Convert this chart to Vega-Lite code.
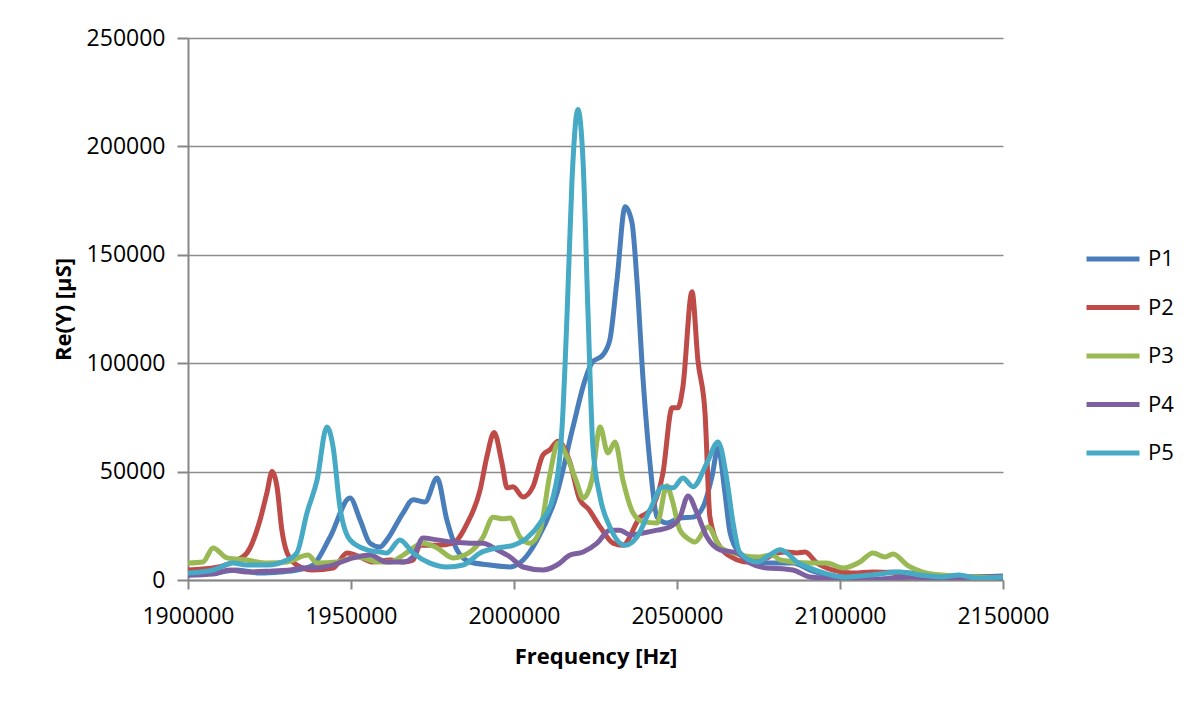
{
  "$schema": "https://vega.github.io/schema/vega-lite/v6.json",
  "width": 815,
  "height": 542,
  "autosize": {"type": "none"},
  "padding": {"left": 188, "top": 38, "right": 191, "bottom": 122},
  "background": "#ffffff",
  "config": {
    "view": {"stroke": null},
    "font": "Open Sans",
    "axis": {
      "labelFont": "Open Sans",
      "labelFontSize": 23,
      "labelColor": "#000000",
      "titleFont": "Open Sans",
      "titleFontSize": 22,
      "titleFontWeight": "bold",
      "titleColor": "#000000",
      "domainColor": "#878787",
      "domainWidth": 2,
      "tickColor": "#878787",
      "tickWidth": 2,
      "gridColor": "#8c8c8c",
      "gridWidth": 1.5,
      "labelFlush": false,
      "labelOverlap": false
    },
    "legend": {
      "labelFont": "Open Sans",
      "labelFontSize": 22,
      "labelColor": "#000000"
    }
  },
  "data": {
    "values": [
      {"s": "P1", "f": 1900000, "v": 2300},
      {"s": "P1", "f": 1907700, "v": 3200},
      {"s": "P1", "f": 1915000, "v": 4600},
      {"s": "P1", "f": 1922100, "v": 3200},
      {"s": "P1", "f": 1928200, "v": 3700},
      {"s": "P1", "f": 1933400, "v": 4600},
      {"s": "P1", "f": 1938300, "v": 6900},
      {"s": "P1", "f": 1943600, "v": 19800},
      {"s": "P1", "f": 1949700, "v": 37800},
      {"s": "P1", "f": 1952800, "v": 27700},
      {"s": "P1", "f": 1955800, "v": 17000},
      {"s": "P1", "f": 1958900, "v": 15200},
      {"s": "P1", "f": 1961000, "v": 18500},
      {"s": "P1", "f": 1966000, "v": 31000},
      {"s": "P1", "f": 1969000, "v": 37000},
      {"s": "P1", "f": 1972700, "v": 36000},
      {"s": "P1", "f": 1976400, "v": 47000},
      {"s": "P1", "f": 1979400, "v": 27700},
      {"s": "P1", "f": 1982500, "v": 13900},
      {"s": "P1", "f": 1986500, "v": 8300},
      {"s": "P1", "f": 1992600, "v": 6900},
      {"s": "P1", "f": 1998800, "v": 6000},
      {"s": "P1", "f": 2002800, "v": 9200},
      {"s": "P1", "f": 2007100, "v": 18500},
      {"s": "P1", "f": 2013200, "v": 40000},
      {"s": "P1", "f": 2018100, "v": 70600},
      {"s": "P1", "f": 2021800, "v": 92300},
      {"s": "P1", "f": 2023900, "v": 100200},
      {"s": "P1", "f": 2027300, "v": 103900},
      {"s": "P1", "f": 2029400, "v": 110800},
      {"s": "P1", "f": 2031600, "v": 138500},
      {"s": "P1", "f": 2034100, "v": 172200},
      {"s": "P1", "f": 2036200, "v": 164800},
      {"s": "P1", "f": 2037700, "v": 138500},
      {"s": "P1", "f": 2039600, "v": 92300},
      {"s": "P1", "f": 2041700, "v": 54000},
      {"s": "P1", "f": 2043900, "v": 29000},
      {"s": "P1", "f": 2046900, "v": 26300},
      {"s": "P1", "f": 2050900, "v": 28600},
      {"s": "P1", "f": 2054900, "v": 29000},
      {"s": "P1", "f": 2058000, "v": 33700},
      {"s": "P1", "f": 2060700, "v": 47500},
      {"s": "P1", "f": 2062600, "v": 61000},
      {"s": "P1", "f": 2064700, "v": 40200},
      {"s": "P1", "f": 2066300, "v": 21700},
      {"s": "P1", "f": 2069300, "v": 12500},
      {"s": "P1", "f": 2074500, "v": 8300},
      {"s": "P1", "f": 2079400, "v": 7800},
      {"s": "P1", "f": 2085600, "v": 7800},
      {"s": "P1", "f": 2090800, "v": 4600},
      {"s": "P1", "f": 2100900, "v": 1400},
      {"s": "P1", "f": 2116300, "v": 3700},
      {"s": "P1", "f": 2136500, "v": 1400},
      {"s": "P1", "f": 2150000, "v": 1800},

      {"s": "P2", "f": 1900000, "v": 4600},
      {"s": "P2", "f": 1907700, "v": 5500},
      {"s": "P2", "f": 1913800, "v": 8300},
      {"s": "P2", "f": 1918100, "v": 12500},
      {"s": "P2", "f": 1922100, "v": 27700},
      {"s": "P2", "f": 1924200, "v": 40200},
      {"s": "P2", "f": 1925800, "v": 50000},
      {"s": "P2", "f": 1927300, "v": 43000},
      {"s": "P2", "f": 1928800, "v": 23000},
      {"s": "P2", "f": 1930400, "v": 12500},
      {"s": "P2", "f": 1933400, "v": 6900},
      {"s": "P2", "f": 1938300, "v": 4600},
      {"s": "P2", "f": 1944500, "v": 5500},
      {"s": "P2", "f": 1948800, "v": 12500},
      {"s": "P2", "f": 1952800, "v": 10600},
      {"s": "P2", "f": 1956700, "v": 8300},
      {"s": "P2", "f": 1962000, "v": 9200},
      {"s": "P2", "f": 1966000, "v": 8300},
      {"s": "P2", "f": 1969000, "v": 9200},
      {"s": "P2", "f": 1971200, "v": 16000},
      {"s": "P2", "f": 1976400, "v": 16000},
      {"s": "P2", "f": 1981300, "v": 17000},
      {"s": "P2", "f": 1985600, "v": 26000},
      {"s": "P2", "f": 1989600, "v": 41500},
      {"s": "P2", "f": 1991700, "v": 57000},
      {"s": "P2", "f": 1993900, "v": 68000},
      {"s": "P2", "f": 1996300, "v": 54000},
      {"s": "P2", "f": 1997900, "v": 42500},
      {"s": "P2", "f": 1999700, "v": 43000},
      {"s": "P2", "f": 2002800, "v": 38300},
      {"s": "P2", "f": 2005800, "v": 43000},
      {"s": "P2", "f": 2008900, "v": 57700},
      {"s": "P2", "f": 2011000, "v": 60000},
      {"s": "P2", "f": 2013500, "v": 64000},
      {"s": "P2", "f": 2017200, "v": 54000},
      {"s": "P2", "f": 2020200, "v": 37000},
      {"s": "P2", "f": 2022700, "v": 33000},
      {"s": "P2", "f": 2026400, "v": 24500},
      {"s": "P2", "f": 2030400, "v": 17000},
      {"s": "P2", "f": 2033400, "v": 16000},
      {"s": "P2", "f": 2038700, "v": 29000},
      {"s": "P2", "f": 2041700, "v": 32000},
      {"s": "P2", "f": 2045700, "v": 49400},
      {"s": "P2", "f": 2048500, "v": 79400},
      {"s": "P2", "f": 2050300, "v": 79400},
      {"s": "P2", "f": 2051800, "v": 89000},
      {"s": "P2", "f": 2054600, "v": 133000},
      {"s": "P2", "f": 2056400, "v": 101600},
      {"s": "P2", "f": 2058600, "v": 77000},
      {"s": "P2", "f": 2060100, "v": 29000},
      {"s": "P2", "f": 2063200, "v": 15200},
      {"s": "P2", "f": 2067200, "v": 10200},
      {"s": "P2", "f": 2071500, "v": 8300},
      {"s": "P2", "f": 2077600, "v": 10200},
      {"s": "P2", "f": 2080700, "v": 12500},
      {"s": "P2", "f": 2083700, "v": 12900},
      {"s": "P2", "f": 2086800, "v": 12500},
      {"s": "P2", "f": 2089300, "v": 12900},
      {"s": "P2", "f": 2092900, "v": 7800},
      {"s": "P2", "f": 2097900, "v": 4600},
      {"s": "P2", "f": 2104000, "v": 3200},
      {"s": "P2", "f": 2110100, "v": 3700},
      {"s": "P2", "f": 2116300, "v": 3200},
      {"s": "P2", "f": 2119300, "v": 1400},
      {"s": "P2", "f": 2126700, "v": 1400},
      {"s": "P2", "f": 2136500, "v": 1400},
      {"s": "P2", "f": 2150000, "v": 1400},

      {"s": "P3", "f": 1900000, "v": 7800},
      {"s": "P3", "f": 1904600, "v": 8300},
      {"s": "P3", "f": 1907700, "v": 14800},
      {"s": "P3", "f": 1912000, "v": 10200},
      {"s": "P3", "f": 1918100, "v": 9200},
      {"s": "P3", "f": 1924200, "v": 7800},
      {"s": "P3", "f": 1930400, "v": 8300},
      {"s": "P3", "f": 1936800, "v": 11500},
      {"s": "P3", "f": 1939600, "v": 7800},
      {"s": "P3", "f": 1945700, "v": 8300},
      {"s": "P3", "f": 1951800, "v": 10600},
      {"s": "P3", "f": 1958900, "v": 8300},
      {"s": "P3", "f": 1962000, "v": 8300},
      {"s": "P3", "f": 1966000, "v": 11500},
      {"s": "P3", "f": 1972100, "v": 17000},
      {"s": "P3", "f": 1976400, "v": 14800},
      {"s": "P3", "f": 1981300, "v": 10200},
      {"s": "P3", "f": 1986500, "v": 12900},
      {"s": "P3", "f": 1990500, "v": 19800},
      {"s": "P3", "f": 1993600, "v": 29000},
      {"s": "P3", "f": 1996600, "v": 28200},
      {"s": "P3", "f": 1998800, "v": 28600},
      {"s": "P3", "f": 2001800, "v": 19800},
      {"s": "P3", "f": 2004900, "v": 17000},
      {"s": "P3", "f": 2008000, "v": 23000},
      {"s": "P3", "f": 2011000, "v": 48500},
      {"s": "P3", "f": 2013500, "v": 63200},
      {"s": "P3", "f": 2016300, "v": 56800},
      {"s": "P3", "f": 2019300, "v": 44800},
      {"s": "P3", "f": 2021200, "v": 37800},
      {"s": "P3", "f": 2023900, "v": 46200},
      {"s": "P3", "f": 2026400, "v": 70600},
      {"s": "P3", "f": 2028800, "v": 58600},
      {"s": "P3", "f": 2031000, "v": 63700},
      {"s": "P3", "f": 2033400, "v": 46200},
      {"s": "P3", "f": 2036500, "v": 31000},
      {"s": "P3", "f": 2039600, "v": 26800},
      {"s": "P3", "f": 2043900, "v": 26300},
      {"s": "P3", "f": 2046900, "v": 43500},
      {"s": "P3", "f": 2048500, "v": 37000},
      {"s": "P3", "f": 2050900, "v": 23000},
      {"s": "P3", "f": 2054000, "v": 18500},
      {"s": "P3", "f": 2055500, "v": 17500},
      {"s": "P3", "f": 2059500, "v": 24500},
      {"s": "P3", "f": 2063200, "v": 15200},
      {"s": "P3", "f": 2067200, "v": 12500},
      {"s": "P3", "f": 2074500, "v": 10600},
      {"s": "P3", "f": 2079400, "v": 11500},
      {"s": "P3", "f": 2081600, "v": 9200},
      {"s": "P3", "f": 2090800, "v": 7800},
      {"s": "P3", "f": 2096000, "v": 7800},
      {"s": "P3", "f": 2100900, "v": 5500},
      {"s": "P3", "f": 2106100, "v": 8300},
      {"s": "P3", "f": 2110100, "v": 12500},
      {"s": "P3", "f": 2113800, "v": 10600},
      {"s": "P3", "f": 2116300, "v": 12000},
      {"s": "P3", "f": 2120600, "v": 6900},
      {"s": "P3", "f": 2126700, "v": 3200},
      {"s": "P3", "f": 2131300, "v": 2300},
      {"s": "P3", "f": 2136500, "v": 1800},
      {"s": "P3", "f": 2150000, "v": 900},

      {"s": "P4", "f": 1900000, "v": 2300},
      {"s": "P4", "f": 1907700, "v": 2800},
      {"s": "P4", "f": 1912900, "v": 4600},
      {"s": "P4", "f": 1918100, "v": 3700},
      {"s": "P4", "f": 1926100, "v": 4200},
      {"s": "P4", "f": 1931300, "v": 4600},
      {"s": "P4", "f": 1934400, "v": 5500},
      {"s": "P4", "f": 1938300, "v": 5500},
      {"s": "P4", "f": 1943600, "v": 6500},
      {"s": "P4", "f": 1950600, "v": 10200},
      {"s": "P4", "f": 1955800, "v": 11500},
      {"s": "P4", "f": 1961000, "v": 8300},
      {"s": "P4", "f": 1966000, "v": 8300},
      {"s": "P4", "f": 1969000, "v": 10600},
      {"s": "P4", "f": 1972100, "v": 19400},
      {"s": "P4", "f": 1976400, "v": 18500},
      {"s": "P4", "f": 1981300, "v": 17500},
      {"s": "P4", "f": 1986500, "v": 17000},
      {"s": "P4", "f": 1990500, "v": 17000},
      {"s": "P4", "f": 1994800, "v": 13900},
      {"s": "P4", "f": 1998800, "v": 10600},
      {"s": "P4", "f": 2002800, "v": 6000},
      {"s": "P4", "f": 2008900, "v": 4600},
      {"s": "P4", "f": 2013200, "v": 6900},
      {"s": "P4", "f": 2017200, "v": 11500},
      {"s": "P4", "f": 2021200, "v": 12900},
      {"s": "P4", "f": 2025500, "v": 17000},
      {"s": "P4", "f": 2029400, "v": 23000},
      {"s": "P4", "f": 2032500, "v": 23000},
      {"s": "P4", "f": 2035600, "v": 20800},
      {"s": "P4", "f": 2039600, "v": 21700},
      {"s": "P4", "f": 2043900, "v": 23000},
      {"s": "P4", "f": 2047900, "v": 24500},
      {"s": "P4", "f": 2050900, "v": 29000},
      {"s": "P4", "f": 2053400, "v": 38800},
      {"s": "P4", "f": 2056100, "v": 31000},
      {"s": "P4", "f": 2059200, "v": 19800},
      {"s": "P4", "f": 2063200, "v": 13900},
      {"s": "P4", "f": 2068400, "v": 12500},
      {"s": "P4", "f": 2072400, "v": 7800},
      {"s": "P4", "f": 2077600, "v": 5500},
      {"s": "P4", "f": 2083700, "v": 5000},
      {"s": "P4", "f": 2085600, "v": 4600},
      {"s": "P4", "f": 2090800, "v": 1400},
      {"s": "P4", "f": 2100900, "v": 500},
      {"s": "P4", "f": 2111400, "v": 500},
      {"s": "P4", "f": 2121500, "v": 1400},
      {"s": "P4", "f": 2131300, "v": 500},
      {"s": "P4", "f": 2150000, "v": 900},

      {"s": "P5", "f": 1900000, "v": 3200},
      {"s": "P5", "f": 1907700, "v": 4600},
      {"s": "P5", "f": 1913800, "v": 7800},
      {"s": "P5", "f": 1918100, "v": 6900},
      {"s": "P5", "f": 1924200, "v": 6900},
      {"s": "P5", "f": 1930400, "v": 9200},
      {"s": "P5", "f": 1933400, "v": 12500},
      {"s": "P5", "f": 1936500, "v": 31000},
      {"s": "P5", "f": 1939600, "v": 46200},
      {"s": "P5", "f": 1942600, "v": 70600},
      {"s": "P5", "f": 1944500, "v": 61400},
      {"s": "P5", "f": 1946600, "v": 33700},
      {"s": "P5", "f": 1949700, "v": 18500},
      {"s": "P5", "f": 1954900, "v": 13900},
      {"s": "P5", "f": 1958900, "v": 12900},
      {"s": "P5", "f": 1961000, "v": 12500},
      {"s": "P5", "f": 1965000, "v": 18500},
      {"s": "P5", "f": 1969000, "v": 12500},
      {"s": "P5", "f": 1974200, "v": 7800},
      {"s": "P5", "f": 1979400, "v": 6000},
      {"s": "P5", "f": 1984400, "v": 6900},
      {"s": "P5", "f": 1989600, "v": 12500},
      {"s": "P5", "f": 1994800, "v": 14800},
      {"s": "P5", "f": 1999700, "v": 16000},
      {"s": "P5", "f": 2004000, "v": 19400},
      {"s": "P5", "f": 2008000, "v": 26300},
      {"s": "P5", "f": 2012000, "v": 38300},
      {"s": "P5", "f": 2014700, "v": 69300},
      {"s": "P5", "f": 2016300, "v": 123300},
      {"s": "P5", "f": 2017800, "v": 184700},
      {"s": "P5", "f": 2019600, "v": 217000},
      {"s": "P5", "f": 2021200, "v": 192500},
      {"s": "P5", "f": 2022700, "v": 123300},
      {"s": "P5", "f": 2024200, "v": 61400},
      {"s": "P5", "f": 2026400, "v": 38300},
      {"s": "P5", "f": 2029400, "v": 24500},
      {"s": "P5", "f": 2034100, "v": 16000},
      {"s": "P5", "f": 2037700, "v": 19800},
      {"s": "P5", "f": 2041700, "v": 32300},
      {"s": "P5", "f": 2045700, "v": 43000},
      {"s": "P5", "f": 2048800, "v": 42500},
      {"s": "P5", "f": 2051800, "v": 47100},
      {"s": "P5", "f": 2054900, "v": 43000},
      {"s": "P5", "f": 2059200, "v": 54000},
      {"s": "P5", "f": 2062600, "v": 63700},
      {"s": "P5", "f": 2065300, "v": 46200},
      {"s": "P5", "f": 2067200, "v": 26300},
      {"s": "P5", "f": 2069300, "v": 12500},
      {"s": "P5", "f": 2074500, "v": 8300},
      {"s": "P5", "f": 2079400, "v": 12500},
      {"s": "P5", "f": 2081600, "v": 13900},
      {"s": "P5", "f": 2083700, "v": 12500},
      {"s": "P5", "f": 2086800, "v": 8300},
      {"s": "P5", "f": 2090800, "v": 5500},
      {"s": "P5", "f": 2096000, "v": 2800},
      {"s": "P5", "f": 2100900, "v": 1400},
      {"s": "P5", "f": 2109200, "v": 2300},
      {"s": "P5", "f": 2118400, "v": 3700},
      {"s": "P5", "f": 2124500, "v": 2300},
      {"s": "P5", "f": 2131300, "v": 1400},
      {"s": "P5", "f": 2136500, "v": 2300},
      {"s": "P5", "f": 2141700, "v": 900},
      {"s": "P5", "f": 2150000, "v": 1400}
    ]
  },
  "mark": {"type": "line", "interpolate": "monotone", "strokeWidth": 5, "strokeCap": "round", "strokeJoin": "round", "clip": true},
  "encoding": {
    "x": {
      "field": "f",
      "type": "quantitative",
      "title": "Frequency [Hz]",
      "scale": {"domain": [1900000, 2150000], "nice": false, "zero": false},
      "axis": {
        "values": [1900000, 1950000, 2000000, 2050000, 2100000, 2150000],
        "format": "d",
        "grid": false,
        "tickSize": 9,
        "labelPadding": 16,
        "titlePadding": 18
      }
    },
    "y": {
      "field": "v",
      "type": "quantitative",
      "title": "Re(Y) [µS]",
      "scale": {"domain": [0, 250000], "nice": false},
      "axis": {
        "values": [0, 50000, 100000, 150000, 200000, 250000],
        "format": "d",
        "grid": true,
        "tickSize": 11,
        "labelPadding": 12,
        "titlePadding": 11
      }
    },
    "color": {
      "field": "s",
      "type": "nominal",
      "title": null,
      "scale": {
        "domain": ["P1", "P2", "P3", "P4", "P5"],
        "range": ["#4a7ebb", "#be4b48", "#98b954", "#7d60a0", "#46aac5"]
      },
      "legend": {
        "orient": "none",
        "legendX": 896,
        "legendY": 192,
        "symbolType": "stroke",
        "symbolSize": 2809,
        "symbolStrokeWidth": 5,
        "labelOffset": 6,
        "rowPadding": 8.5,
        "padding": 0
      }
    }
  }
}
